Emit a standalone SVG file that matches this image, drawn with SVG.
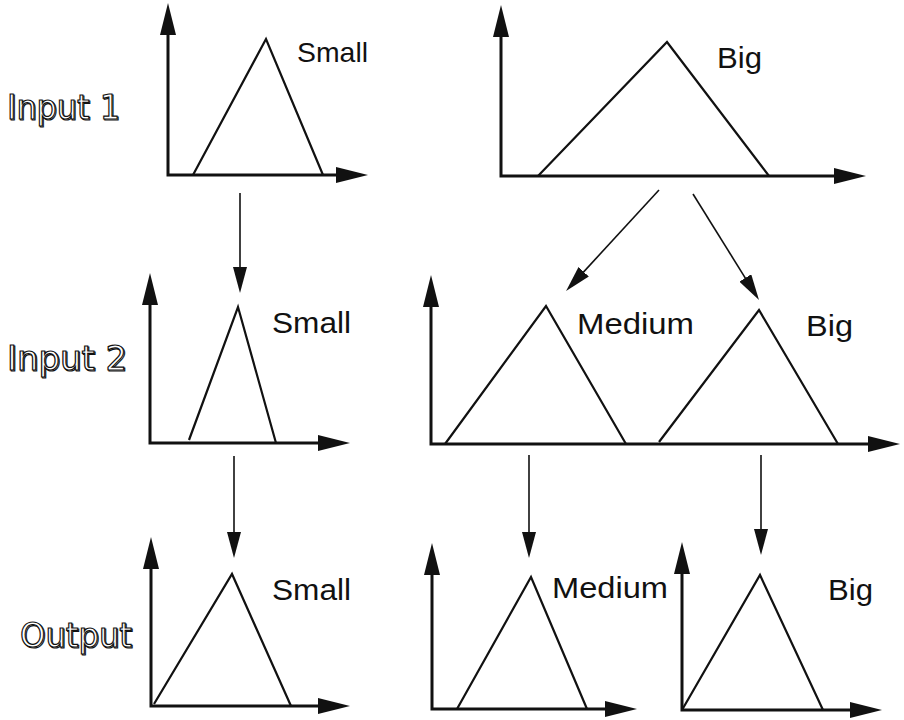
<svg xmlns="http://www.w3.org/2000/svg" width="904" height="720" viewBox="0 0 904 720">
<defs>
<style>
.axis{stroke:#111;stroke-width:3;fill:none}
.tri{stroke:#111;stroke-width:2.2;fill:none;stroke-linejoin:miter}
.conn{stroke:#111;stroke-width:1.6;fill:none}
.lbl{font-family:"Liberation Sans",Arial,sans-serif;font-size:29px;fill:#111}
.lbl-s{font-size:28px}
.side{font-family:"DejaVu Sans","Liberation Sans",sans-serif;font-size:33px;fill:#fff;stroke:#111;stroke-width:1.2}
.shadow{font-family:"DejaVu Sans","Liberation Sans",sans-serif;font-size:33px;fill:none;stroke:#111;stroke-width:1.2}
</style>
<marker id="ax" markerUnits="userSpaceOnUse" markerWidth="33" markerHeight="16" refX="1" refY="8" orient="auto-start-reverse">
<path d="M0,0 L32,8 L0,16 Z" fill="#111"/>
</marker>
<marker id="ar" markerUnits="userSpaceOnUse" markerWidth="27" markerHeight="14" refX="1" refY="7" orient="auto">
<path d="M0,0 L26,7 L0,14 Z" fill="#111"/>
</marker>
</defs>
<rect width="904" height="720" fill="#fff"/>

<g id="row-labels">
<text class="shadow" x="8" y="120" textLength="113" lengthAdjust="spacingAndGlyphs">Input 1</text>
<text class="side" x="7" y="119" textLength="113" lengthAdjust="spacingAndGlyphs">Input 1</text>
<text class="shadow" x="8" y="371" textLength="120" lengthAdjust="spacingAndGlyphs">Input 2</text>
<text class="side" x="7" y="370" textLength="120" lengthAdjust="spacingAndGlyphs">Input 2</text>
<text class="shadow" x="21" y="648" textLength="112" lengthAdjust="spacingAndGlyphs">Output</text>
<text class="side" x="20" y="647" textLength="112" lengthAdjust="spacingAndGlyphs">Output</text>
</g>

<g id="input1-small">
<polyline class="axis" points="168,34 168,175 337,175" marker-start="url(#ax)" marker-end="url(#ax)"/>
<polyline class="tri" points="193,175 266,39 323,175"/>
<text class="lbl lbl-s" x="297" y="62" textLength="71" lengthAdjust="spacingAndGlyphs">Small</text>
</g>

<g id="input1-big">
<polyline class="axis" points="501,36 501,176 835,176" marker-start="url(#ax)" marker-end="url(#ax)"/>
<polyline class="tri" points="538,176 667,42 769,176"/>
<text class="lbl" x="717" y="68" textLength="45" lengthAdjust="spacingAndGlyphs">Big</text>
</g>

<g id="input2-small">
<polyline class="axis" points="150,304 150,443 319,443" marker-start="url(#ax)" marker-end="url(#ax)"/>
<polyline class="tri" points="189,440 238,307 276,443"/>
<text class="lbl" x="272" y="333" textLength="79" lengthAdjust="spacingAndGlyphs">Small</text>
</g>

<g id="input2-medium-big">
<polyline class="axis" points="431,306 431,444 869,444" marker-start="url(#ax)" marker-end="url(#ax)"/>
<polyline class="tri" points="445,444 546,306 626,444"/>
<polyline class="tri" points="659,442 759,310 838,444"/>
<text class="lbl" x="577" y="334" textLength="117" lengthAdjust="spacingAndGlyphs">Medium</text>
<text class="lbl" x="806" y="336" textLength="47" lengthAdjust="spacingAndGlyphs">Big</text>
</g>

<g id="output-small">
<polyline class="axis" points="151,568 151,706 319,706" marker-start="url(#ax)" marker-end="url(#ax)"/>
<polyline class="tri" points="154,704 232,574 291,706"/>
<text class="lbl" x="272" y="600" textLength="79" lengthAdjust="spacingAndGlyphs">Small</text>
</g>

<g id="output-medium">
<polyline class="axis" points="432,574 432,709 606,709" marker-start="url(#ax)" marker-end="url(#ax)"/>
<polyline class="tri" points="457,709 531,577 587,709"/>
<text class="lbl" x="552" y="598" textLength="116" lengthAdjust="spacingAndGlyphs">Medium</text>
</g>

<g id="output-big">
<polyline class="axis" points="682,573 682,710 851,710" marker-start="url(#ax)" marker-end="url(#ax)"/>
<polyline class="tri" points="682,710 760,575 823,710"/>
<text class="lbl" x="828" y="600" textLength="45" lengthAdjust="spacingAndGlyphs">Big</text>
</g>

<g id="connectors">
<line class="conn" x1="240" y1="193" x2="240" y2="268" marker-end="url(#ar)"/>
<line class="conn" x1="234" y1="456" x2="234" y2="533" marker-end="url(#ar)"/>
<line class="conn" x1="659" y1="190" x2="583" y2="272.6" marker-end="url(#ar)"/>
<line class="conn" x1="693" y1="194" x2="745.8" y2="278.8" marker-end="url(#ar)"/>
<line class="conn" x1="529" y1="455" x2="529" y2="533" marker-end="url(#ar)"/>
<line class="conn" x1="761" y1="455" x2="761" y2="530" marker-end="url(#ar)"/>
</g>
</svg>
